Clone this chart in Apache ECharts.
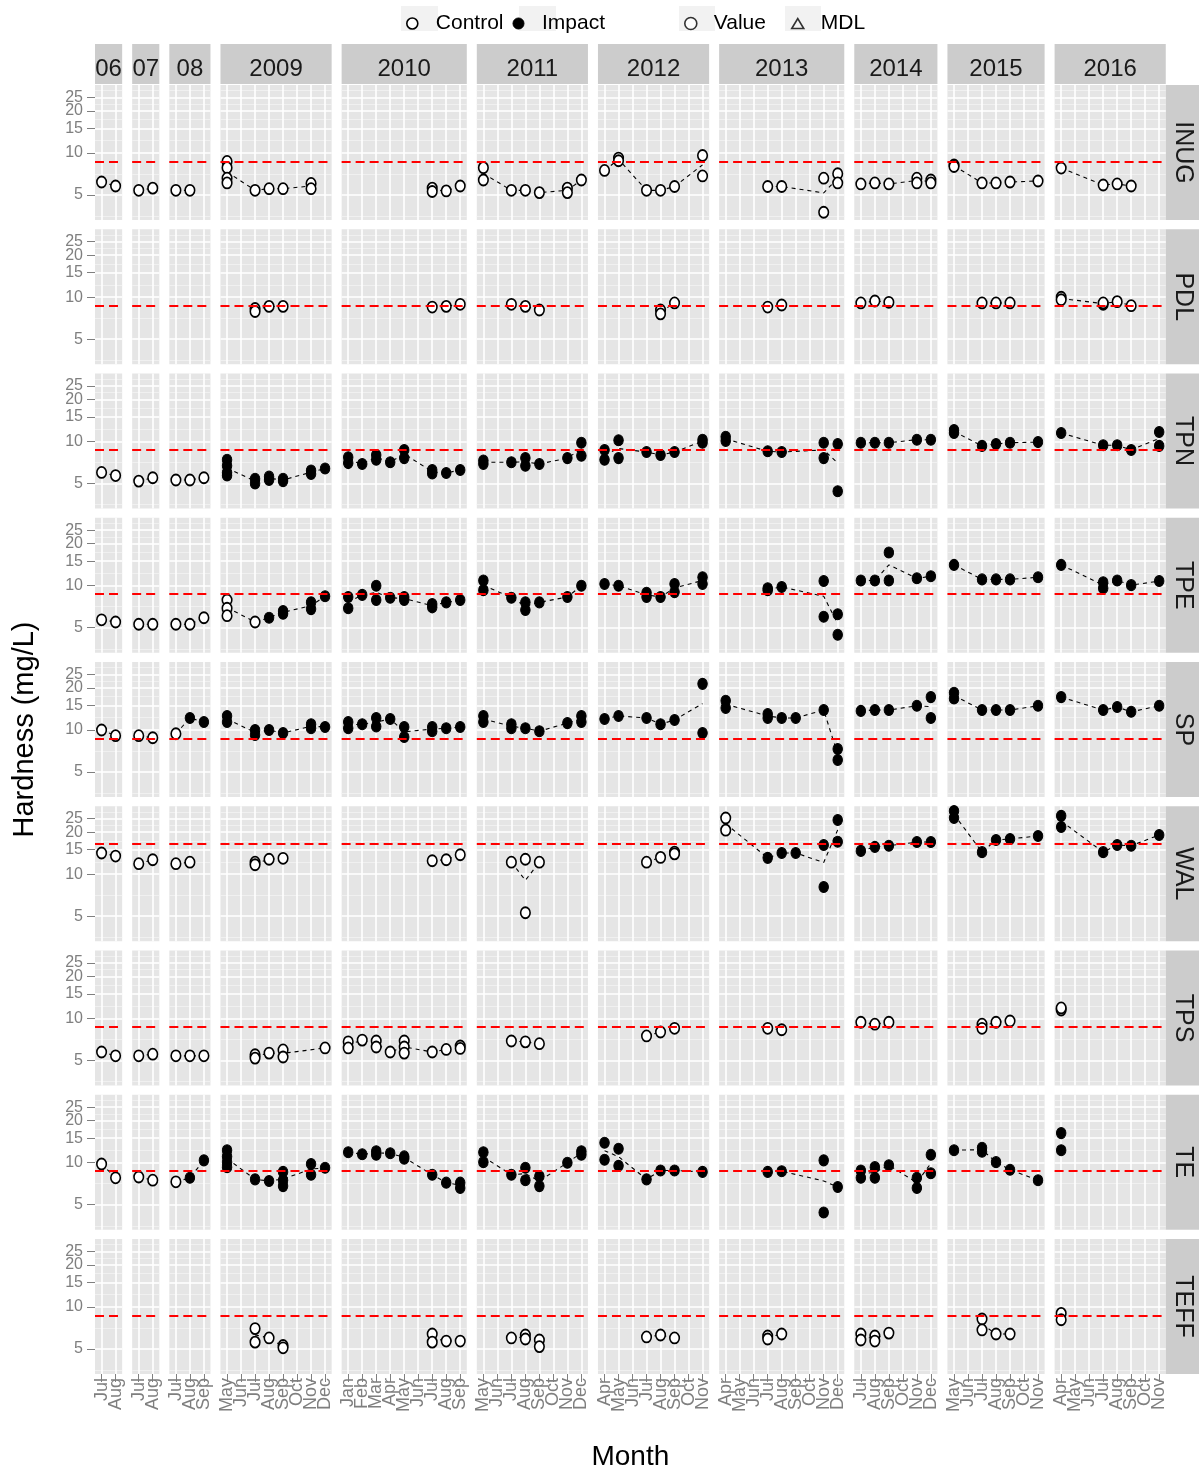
<!DOCTYPE html>
<html><head><meta charset="utf-8">
<script src="https://cdn.jsdelivr.net/npm/echarts@6/dist/echarts.min.js"></script>
<style>html,body{margin:0;padding:0;background:#fff}#c{width:1199px;height:1474px}</style>
</head><body><div id="c"></div>
<script>
// ---------------- data ----------------
const sites = ['INUG','PDL','TPN','TPE','SP','WAL','TPS','TE','TEFF'];
const years = [2006,2007,2008,2009,2010,2011,2012,2013,2014,2015,2016];
const yearLabels = ['06','07','08','2009','2010','2011','2012','2013','2014','2015','2016'];
const yearMonths = [[7,8],[7,8],[7,8,9],[5,6,7,8,9,10,11,12],[1,2,3,4,5,6,7,8,9],[5,6,7,8,9,10,11,12],
  [4,5,6,7,8,9,10,11],[4,5,6,7,8,9,10,11,12],[7,8,9,10,11,12],[5,6,7,8,9,10,11],[4,5,6,7,8,9,10,11]];
const monthNames = ['Jan','Feb','Mar','Apr','May','Jun','Jul','Aug','Sep','Oct','Nov','Dec'];
const yTicks = [5,10,15,20,25];
const guideline = [8.8,8.8,8.8,8.8,8.8,16.7,8.8,8.8,8.8];

// [year, month, hardness, 'C' control / 'I' impact]
const INUG = [
 [2006,7,6.2,'C'],[2006,8,5.8,'C'],
 [2007,7,5.4,'C'],[2007,8,5.6,'C'],
 [2008,7,5.4,'C'],[2008,8,5.4,'C'],
 [2009,5,8.7,'C'],[2009,5,7.85,'C'],[2009,5,6.6,'C'],[2009,5,6.1,'C'],[2009,7,5.4,'C'],[2009,8,5.55,'C'],[2009,9,5.55,'C'],[2009,11,6.05,'C'],[2009,11,5.55,'C'],
 [2010,7,5.6,'C'],[2010,7,5.3,'C'],[2010,8,5.35,'C'],[2010,9,5.8,'C'],
 [2011,5,7.85,'C'],[2011,5,6.4,'C'],[2011,7,5.4,'C'],[2011,8,5.4,'C'],[2011,9,5.2,'C'],[2011,11,5.6,'C'],[2011,11,5.2,'C'],[2011,12,6.4,'C'],
 [2012,4,7.5,'C'],[2012,5,9.2,'C'],[2012,5,8.8,'C'],[2012,7,5.4,'C'],[2012,8,5.4,'C'],[2012,9,5.75,'C'],[2012,11,9.6,'C'],[2012,11,6.85,'C'],
 [2013,7,5.75,'C'],[2013,8,5.75,'C'],[2013,11,6.6,'C'],[2013,11,3.76,'C'],[2013,12,7.1,'C'],[2013,12,6.1,'C'],
 [2014,7,6.0,'C'],[2014,8,6.1,'C'],[2014,9,6.0,'C'],[2014,11,6.6,'C'],[2014,11,6.1,'C'],[2014,12,6.4,'C'],[2014,12,6.1,'C'],
 [2015,5,8.2,'C'],[2015,5,8.0,'C'],[2015,7,6.1,'C'],[2015,8,6.1,'C'],[2015,9,6.2,'C'],[2015,11,6.3,'C'],
 [2016,4,7.8,'C'],[2016,7,5.9,'C'],[2016,8,6.0,'C'],[2016,9,5.8,'C']
];
const PDL = [
 [2009,7,8.3,'C'],[2009,7,7.9,'C'],[2009,8,8.6,'C'],[2009,9,8.6,'C'],
 [2010,7,8.5,'C'],[2010,8,8.6,'C'],[2010,9,8.9,'C'],
 [2011,7,8.9,'C'],[2011,8,8.6,'C'],[2011,9,8.1,'C'],
 [2012,8,8.1,'C'],[2012,8,7.6,'C'],[2012,9,9.1,'C'],
 [2013,7,8.5,'C'],[2013,8,8.8,'C'],
 [2014,7,9.1,'C'],[2014,8,9.4,'C'],[2014,9,9.2,'C'],
 [2015,7,9.1,'C'],[2015,8,9.1,'C'],[2015,9,9.1,'C'],
 [2016,4,10.0,'C'],[2016,4,9.6,'C'],[2016,7,8.9,'C'],[2016,7,9.1,'C'],[2016,8,9.3,'C'],[2016,9,8.7,'C']
];
const TPN = [
 [2006,7,6.0,'C'],[2006,8,5.7,'C'],
 [2007,7,5.2,'C'],[2007,8,5.5,'C'],
 [2008,7,5.3,'C'],[2008,8,5.3,'C'],[2008,9,5.5,'C'],
 [2009,5,7.4,'I'],[2009,5,6.7,'I'],[2009,5,6.0,'I'],[2009,5,5.7,'I'],[2009,7,5.4,'I'],[2009,7,5.0,'I'],[2009,8,5.6,'I'],[2009,8,5.3,'I'],[2009,9,5.4,'I'],[2009,9,5.2,'I'],[2009,11,6.2,'I'],[2009,11,5.85,'I'],[2009,12,6.4,'I'],
 [2010,1,7.7,'I'],[2010,1,7.0,'I'],[2010,2,6.9,'I'],[2010,3,8.0,'I'],[2010,3,7.4,'I'],[2010,4,7.1,'I'],[2010,5,8.7,'I'],[2010,5,7.6,'I'],[2010,7,6.25,'I'],[2010,7,5.9,'I'],[2010,8,5.95,'I'],[2010,9,6.25,'I'],
 [2011,5,7.3,'I'],[2011,5,6.9,'I'],[2011,7,7.1,'I'],[2011,8,7.6,'I'],[2011,8,6.7,'I'],[2011,9,6.9,'I'],[2011,11,7.6,'I'],[2011,12,9.8,'I'],[2011,12,7.9,'I'],
 [2012,4,8.7,'I'],[2012,4,7.4,'I'],[2012,5,10.2,'I'],[2012,5,7.6,'I'],[2012,7,8.4,'I'],[2012,8,8.0,'I'],[2012,9,8.4,'I'],[2012,11,9.8,'I'],[2012,11,10.3,'I'],
 [2013,4,10.8,'I'],[2013,4,10.1,'I'],[2013,7,8.5,'I'],[2013,8,8.4,'I'],[2013,11,9.8,'I'],[2013,11,7.6,'I'],[2013,12,9.6,'I'],[2013,12,4.4,'I'],
 [2014,7,9.8,'I'],[2014,8,9.8,'I'],[2014,9,9.8,'I'],[2014,11,10.3,'I'],[2014,12,10.3,'I'],
 [2015,5,12.1,'I'],[2015,5,11.5,'I'],[2015,7,9.3,'I'],[2015,8,9.6,'I'],[2015,9,9.8,'I'],[2015,11,9.9,'I'],
 [2016,4,11.5,'I'],[2016,7,9.4,'I'],[2016,8,9.4,'I'],[2016,9,8.7,'I'],[2016,11,11.7,'I'],[2016,11,9.3,'I']
];
const TPE = [
 [2006,7,5.7,'C'],[2006,8,5.5,'C'],
 [2007,7,5.3,'C'],[2007,8,5.3,'C'],
 [2008,7,5.3,'C'],[2008,8,5.3,'C'],[2008,9,5.9,'C'],
 [2009,5,7.9,'C'],[2009,5,6.9,'C'],[2009,5,6.1,'C'],[2009,7,5.5,'C'],[2009,8,5.9,'I'],[2009,9,6.3,'I'],[2009,9,6.6,'I'],[2009,11,7.6,'I'],[2009,11,6.8,'I'],[2009,12,8.4,'I'],
 [2010,1,8.3,'I'],[2010,1,6.9,'I'],[2010,2,8.6,'I'],[2010,3,10.0,'I'],[2010,3,7.9,'I'],[2010,4,8.2,'I'],[2010,5,8.3,'I'],[2010,5,7.9,'I'],[2010,7,7.4,'I'],[2010,7,7.0,'I'],[2010,8,7.6,'I'],[2010,9,7.9,'I'],
 [2011,5,10.9,'I'],[2011,5,9.3,'I'],[2011,7,8.2,'I'],[2011,8,7.6,'I'],[2011,8,6.7,'I'],[2011,9,7.6,'I'],[2011,11,8.3,'I'],[2011,12,10.0,'I'],
 [2012,4,10.3,'I'],[2012,5,10.0,'I'],[2012,7,8.9,'I'],[2012,7,8.3,'I'],[2012,8,8.3,'I'],[2012,9,10.3,'I'],[2012,9,9.0,'I'],[2012,11,11.5,'I'],[2012,11,10.3,'I'],
 [2013,7,9.6,'I'],[2013,7,9.3,'I'],[2013,8,9.8,'I'],[2013,11,10.8,'I'],[2013,11,6.0,'I'],[2013,12,6.25,'I'],[2013,12,4.45,'I'],
 [2014,7,10.9,'I'],[2014,8,10.9,'I'],[2014,9,17.3,'I'],[2014,9,10.9,'I'],[2014,11,11.3,'I'],[2014,12,11.7,'I'],
 [2015,5,14.1,'I'],[2015,7,11.1,'I'],[2015,8,11.1,'I'],[2015,9,11.1,'I'],[2015,11,11.5,'I'],
 [2016,4,14.1,'I'],[2016,7,10.6,'I'],[2016,7,9.6,'I'],[2016,8,10.9,'I'],[2016,9,10.1,'I'],[2016,11,10.8,'I']
];
const SP = [
 [2006,7,10.0,'C'],[2006,8,9.1,'C'],
 [2007,7,9.1,'C'],[2007,8,8.8,'C'],
 [2008,7,9.4,'C'],[2008,8,12.2,'I'],[2008,9,11.4,'I'],
 [2009,5,12.6,'I'],[2009,5,11.4,'I'],[2009,7,10.0,'I'],[2009,7,9.2,'I'],[2009,8,10.0,'I'],[2009,9,9.5,'I'],[2009,11,11.0,'I'],[2009,11,10.3,'I'],[2009,12,10.5,'I'],
 [2010,1,11.4,'I'],[2010,1,10.3,'I'],[2010,2,11.0,'I'],[2010,3,12.2,'I'],[2010,3,10.6,'I'],[2010,4,12.0,'I'],[2010,5,10.5,'I'],[2010,5,8.9,'I'],[2010,7,9.8,'I'],[2010,7,10.5,'I'],[2010,8,10.3,'I'],[2010,9,10.5,'I'],
 [2011,5,12.6,'I'],[2011,5,11.4,'I'],[2011,7,11.0,'I'],[2011,7,10.3,'I'],[2011,8,10.3,'I'],[2011,9,9.8,'I'],[2011,11,11.2,'I'],[2011,12,12.6,'I'],[2011,12,11.4,'I'],
 [2012,4,12.0,'I'],[2012,5,12.6,'I'],[2012,7,12.2,'I'],[2012,8,11.0,'I'],[2012,9,11.8,'I'],[2012,11,21.4,'I'],[2012,11,9.5,'I'],
 [2013,4,16.2,'I'],[2013,4,14.4,'I'],[2013,7,13.0,'I'],[2013,7,12.2,'I'],[2013,8,12.2,'I'],[2013,9,12.2,'I'],[2013,11,13.9,'I'],[2013,12,7.3,'I'],[2013,12,6.1,'I'],
 [2014,7,13.7,'I'],[2014,8,13.9,'I'],[2014,9,13.9,'I'],[2014,11,14.9,'I'],[2014,12,17.2,'I'],[2014,12,12.2,'I'],
 [2015,5,18.5,'I'],[2015,5,16.8,'I'],[2015,7,13.9,'I'],[2015,8,13.9,'I'],[2015,9,13.9,'I'],[2015,11,14.9,'I'],
 [2016,4,17.2,'I'],[2016,7,13.9,'I'],[2016,8,14.6,'I'],[2016,9,13.5,'I'],[2016,11,14.9,'I']
];
const WAL = [
 [2006,7,14.2,'C'],[2006,8,13.5,'C'],
 [2007,7,11.9,'C'],[2007,8,12.7,'C'],
 [2008,7,11.9,'C'],[2008,8,12.2,'C'],
 [2009,7,12.2,'C'],[2009,7,11.7,'C'],[2009,8,12.8,'C'],[2009,9,13.0,'C'],
 [2010,7,12.5,'C'],[2010,8,12.7,'C'],[2010,9,13.8,'C'],
 [2011,7,12.2,'C'],[2011,8,12.8,'C'],[2011,8,5.3,'C'],[2011,9,12.2,'C'],
 [2012,7,12.2,'C'],[2012,8,13.2,'C'],[2012,9,14.4,'C'],[2012,9,14.0,'C'],
 [2013,4,25.3,'C'],[2013,4,20.7,'C'],[2013,7,13.1,'I'],[2013,8,14.2,'I'],[2013,9,14.2,'I'],[2013,11,16.2,'I'],[2013,11,8.1,'I'],[2013,12,24.5,'I'],[2013,12,17.1,'I'],
 [2014,7,14.7,'I'],[2014,8,15.7,'I'],[2014,9,16.0,'I'],[2014,11,17.0,'I'],[2014,12,17.0,'I'],
 [2015,5,28.4,'I'],[2015,5,25.3,'I'],[2015,7,14.4,'I'],[2015,8,17.6,'I'],[2015,9,17.9,'I'],[2015,11,18.8,'I'],
 [2016,4,26.2,'I'],[2016,4,21.8,'I'],[2016,7,14.4,'I'],[2016,8,16.2,'I'],[2016,9,16.0,'I'],[2016,11,19.1,'I']
];
const TPS = [
 [2006,7,5.75,'C'],[2006,8,5.4,'C'],
 [2007,7,5.4,'C'],[2007,8,5.55,'C'],
 [2008,7,5.4,'C'],[2008,8,5.4,'C'],[2008,9,5.4,'C'],
 [2009,7,5.5,'C'],[2009,7,5.2,'C'],[2009,8,5.65,'C'],[2009,9,5.95,'C'],[2009,9,5.3,'C'],[2009,12,6.15,'C'],
 [2010,1,6.8,'C'],[2010,1,6.15,'C'],[2010,2,7.0,'C'],[2010,3,6.9,'C'],[2010,3,6.25,'C'],[2010,4,5.75,'C'],[2010,5,6.9,'C'],[2010,5,6.25,'C'],[2010,5,5.65,'C'],[2010,7,5.75,'C'],[2010,8,6.0,'C'],[2010,9,6.35,'C'],[2010,9,6.1,'C'],
 [2011,7,6.9,'C'],[2011,8,6.8,'C'],[2011,9,6.6,'C'],
 [2012,7,7.5,'C'],[2012,8,8.0,'C'],[2012,9,8.5,'C'],
 [2013,7,8.5,'C'],[2013,8,8.3,'C'],
 [2014,7,9.4,'C'],[2014,8,9.1,'C'],[2014,9,9.4,'C'],
 [2015,7,9.1,'C'],[2015,7,8.5,'C'],[2015,8,9.4,'C'],[2015,9,9.6,'C'],
 [2016,4,11.5,'C'],[2016,4,11.9,'C']
];
const TE = [
 [2006,7,9.8,'C'],[2006,8,7.8,'C'],
 [2007,7,7.9,'C'],[2007,8,7.5,'C'],
 [2008,7,7.3,'C'],[2008,8,7.8,'I'],[2008,9,10.4,'I'],
 [2009,5,12.3,'I'],[2009,5,11.1,'I'],[2009,5,10.1,'I'],[2009,5,9.3,'I'],[2009,7,7.6,'I'],[2009,8,7.4,'I'],[2009,9,8.6,'I'],[2009,9,7.5,'I'],[2009,9,6.8,'I'],[2009,11,9.8,'I'],[2009,11,8.2,'I'],[2009,12,9.2,'I'],
 [2010,1,11.9,'I'],[2010,2,11.5,'I'],[2010,3,12.1,'I'],[2010,3,11.4,'I'],[2010,4,11.7,'I'],[2010,5,11.1,'I'],[2010,5,10.7,'I'],[2010,7,8.2,'I'],[2010,8,7.2,'I'],[2010,9,7.2,'I'],[2010,9,6.6,'I'],
 [2011,5,11.9,'I'],[2011,5,10.1,'I'],[2011,7,8.2,'I'],[2011,8,9.2,'I'],[2011,8,7.5,'I'],[2011,9,8.0,'I'],[2011,9,6.8,'I'],[2011,11,10.0,'I'],[2011,12,11.4,'I'],[2011,12,12.1,'I'],
 [2012,4,13.9,'I'],[2012,4,10.5,'I'],[2012,5,12.6,'I'],[2012,5,9.5,'I'],[2012,7,7.6,'I'],[2012,8,8.8,'I'],[2012,9,8.8,'I'],[2012,11,8.6,'I'],
 [2013,7,8.6,'I'],[2013,8,8.7,'I'],[2013,11,10.4,'I'],[2013,11,4.4,'I'],[2013,12,6.7,'I'],
 [2014,7,8.8,'I'],[2014,7,7.8,'I'],[2014,8,9.3,'I'],[2014,8,7.8,'I'],[2014,9,9.6,'I'],[2014,11,7.8,'I'],[2014,11,6.6,'I'],[2014,12,11.4,'I'],[2014,12,8.4,'I'],
 [2015,5,12.3,'I'],[2015,7,12.8,'I'],[2015,7,12.0,'I'],[2015,8,10.1,'I'],[2015,9,8.9,'I'],[2015,11,7.5,'I'],
 [2016,4,16.3,'I'],[2016,4,12.3,'I']
];
const TEFF = [
 [2009,7,7.0,'C'],[2009,7,5.6,'C'],[2009,8,6.0,'C'],[2009,9,5.3,'C'],[2009,9,5.1,'C'],
 [2010,7,6.4,'C'],[2010,7,5.6,'C'],[2010,8,5.7,'C'],[2010,9,5.7,'C'],
 [2011,7,6.0,'C'],[2011,8,6.3,'C'],[2011,8,5.9,'C'],[2011,9,5.8,'C'],[2011,9,5.2,'C'],
 [2012,7,6.1,'C'],[2012,8,6.3,'C'],[2012,9,6.0,'C'],
 [2013,7,6.2,'C'],[2013,7,5.9,'C'],[2013,8,6.4,'C'],
 [2014,7,6.4,'C'],[2014,7,5.8,'C'],[2014,8,6.2,'C'],[2014,8,5.7,'C'],[2014,9,6.5,'C'],
 [2015,7,8.2,'C'],[2015,7,6.85,'C'],[2015,8,6.4,'C'],[2015,9,6.4,'C'],
 [2016,4,9.0,'C'],[2016,4,8.1,'C']
];
const siteData = {INUG, PDL, TPN, TPE, SP, WAL, TPS, TE, TEFF};

// ---------------- layout / style ----------------
const FR = "'Liberation Sans',Arial,sans-serif";
const L = {x0:95, colGap:10, unit:14.0, expand:0.47, top0:85, rowPitch:144.25, rowH:135,
  stripTop:44, stripH:40, rightStripW:34};
const lg = Math.log10;
const yMin = lg(3.31), yMax = lg(30.7);
const yMajor = yTicks.map(lg);
const yMinor = [];
for (let k = 0; k < yMajor.length - 1; k++) yMinor.push((yMajor[k] + yMajor[k+1]) / 2);
yMinor.unshift(yMajor[0] - (yMajor[1] - yMajor[0]) / 2);
yMinor.push(yMajor[yMajor.length-1] + (yMajor[yMajor.length-1] - yMajor[yMajor.length-2]) / 2);
// labels split over two axes so that the library never drops touching labels
const yLabA = yMajor.filter((v, k) => k % 2 === 0);
const yLabB = yMajor.filter((v, k) => k % 2 === 1);

const cols = [];
{ let x = L.x0;
  yearMonths.forEach(ms => {
    const w = L.unit * (ms[ms.length-1] - ms[0] + 2 * L.expand);
    cols.push({left:x, width:w}); x += w + L.colGap;
  });
}
const panelRight = cols[cols.length-1].left + cols[cols.length-1].width;

const grid = [], xAxis = [], yAxis = [], series = [], graphic = [];
const nR = sites.length;
const xLabelStyle = {rotate:90, color:'#7F7F7F', fontSize:18, fontFamily:FR, margin:4,
  interval:0, showMinLabel:true, showMaxLabel:true, formatter:v => monthNames[Math.round(v)-1]};
const yLabelStyle = {color:'#7F7F7F', fontSize:16, fontFamily:FR, margin:4,
  interval:0, showMinLabel:true, showMaxLabel:true, formatter:v => String(Math.round(Math.pow(10, v)))};

sites.forEach((site, r) => {
  const obs = siteData[site];
  const top = L.top0 + r * L.rowPitch;
  years.forEach((yr, c) => {
    const gi = grid.length;
    const ms = yearMonths[c];
    const msA = ms.filter((m, k) => k % 2 === 0), msB = ms.filter((m, k) => k % 2 === 1);
    grid.push({left:cols[c].left, top:top, width:cols[c].width, height:L.rowH,
      show:true, backgroundColor:'#E5E5E5', borderWidth:0});
    const bottom = (r === nR - 1);
    const xmin = ms[0] - L.expand, xmax = ms[ms.length-1] + L.expand;
    const xi = xAxis.length;
    xAxis.push({type:'value', gridIndex:gi, min:xmin, max:xmax, position:'bottom',
      axisLine:{show:false},
      axisTick:{show:bottom, customValues:ms, length:8, lineStyle:{color:'#7F7F7F', width:1}},
      axisLabel:Object.assign({show:bottom, customValues:msA}, xLabelStyle),
      splitLine:{show:true, lineStyle:{color:'#FFFFFF', width:1.6}}});
    xAxis.push({type:'value', gridIndex:gi, min:xmin, max:xmax, position:'bottom', offset:0,
      show:bottom && msB.length > 0,
      axisLine:{show:false}, axisTick:{show:false, customValues:msB.length ? msB : ms},
      axisLabel:Object.assign({show:bottom, customValues:msB.length ? msB : ms}, xLabelStyle),
      splitLine:{show:false}});
    // minor y gridlines
    yAxis.push({type:'value', gridIndex:gi, min:yMin, max:yMax, position:'left',
      axisLine:{show:false}, axisTick:{show:false, customValues:yMinor}, axisLabel:{show:false},
      splitLine:{show:true, lineStyle:{color:'#F2F2F2', width:0.8}}});
    const yi = yAxis.length;
    yAxis.push({type:'value', gridIndex:gi, min:yMin, max:yMax, position:'left',
      axisLine:{show:false},
      axisTick:{show:c===0, customValues:yMajor, length:8, lineStyle:{color:'#7F7F7F', width:1}},
      axisLabel:Object.assign({show:c===0, customValues:yLabA}, yLabelStyle, {margin:12}),
      splitLine:{show:true, lineStyle:{color:'#FFFFFF', width:1.6}}});
    yAxis.push({type:'value', gridIndex:gi, min:yMin, max:yMax, position:'left', offset:0, show:c===0,
      axisLine:{show:false}, axisTick:{show:false, customValues:yLabB},
      axisLabel:Object.assign({show:c===0, customValues:yLabB}, yLabelStyle, {margin:12}),
      splitLine:{show:false}});

    const pts = obs.filter(o => o[0] === yr);
    const byM = {};
    pts.forEach(o => { (byM[o[1]] = byM[o[1]] || []).push(o[2]); });
    const meanLine = Object.keys(byM).map(Number).sort((a,b) => a-b)
      .map(m => [m, lg(byM[m].reduce((s,v) => s+v, 0) / byM[m].length)]);
    series.push({type:'line', xAxisIndex:xi, yAxisIndex:yi, data:meanLine, symbol:'none', silent:true,
      lineStyle:{color:'#000', width:1.1, type:[4,4]}, z:2, animation:false,
      markLine:{silent:true, symbol:['none','none'], label:{show:false}, animation:false,
        lineStyle:{color:'#FF0000', width:1.8, type:[9,5]}, emphasis:{disabled:true},
        data:[{yAxis:lg(guideline[r])}]}});
    const ctrl = pts.filter(o => o[3] === 'C').map(o => [o[1], lg(o[2])]);
    const imp = pts.filter(o => o[3] === 'I').map(o => [o[1], lg(o[2])]);
    if (ctrl.length) series.push({type:'scatter', name:'Control', xAxisIndex:xi, yAxisIndex:yi, data:ctrl,
      symbol:'circle', symbolSize:[9.5,11], silent:true, z:3, animation:false,
      itemStyle:{color:'#FFFFFF', borderColor:'#000', borderWidth:1.7, opacity:1}});
    if (imp.length) series.push({type:'scatter', name:'Impact', xAxisIndex:xi, yAxisIndex:yi, data:imp,
      symbol:'circle', symbolSize:[9.5,11], silent:true, z:3, animation:false,
      itemStyle:{color:'#000000', borderColor:'#000', borderWidth:1, opacity:1}});
  });
  // right strip
  graphic.push({type:'rect', shape:{x:panelRight, y:top, width:L.rightStripW, height:L.rowH},
    style:{fill:'#CCCCCC'}, silent:true});
  graphic.push({type:'text', x:panelRight + L.rightStripW/2, y:top + L.rowH/2, rotation:-Math.PI/2, silent:true,
    style:{text:site, fontSize:25, fontFamily:FR, fill:'#1A1A1A', textAlign:'center', textVerticalAlign:'middle'}});
});
// top strips
yearLabels.forEach((lab, c) => {
  graphic.push({type:'rect', shape:{x:cols[c].left, y:L.stripTop, width:cols[c].width, height:L.stripH},
    style:{fill:'#CCCCCC'}, silent:true});
  graphic.push({type:'text', x:cols[c].left + cols[c].width/2, y:L.stripTop + L.stripH/2 + 5, silent:true,
    style:{text:lab, fontSize:24, fontFamily:FR, fill:'#1A1A1A', textAlign:'center', textVerticalAlign:'middle'}});
});
// legend key backgrounds
[[401,37],[519,37],[679,36],[785,36]].forEach(k => {
  graphic.push({type:'rect', shape:{x:k[0], y:6, width:k[1], height:25}, style:{fill:'#F2F2F2'}, silent:true});
});
// axis titles
graphic.push({type:'text', x:25, y:L.top0 + ((nR-1)*L.rowPitch + L.rowH)/2, rotation:Math.PI/2, silent:true,
  style:{text:'Hardness (mg/L)', fontSize:29, fontFamily:FR, fill:'#000', textAlign:'center', textVerticalAlign:'middle'}});
graphic.push({type:'text', x:(L.x0 + panelRight)/2, y:1457, silent:true,
  style:{text:'Month', fontSize:28, fontFamily:FR, fill:'#000', textAlign:'center', textVerticalAlign:'middle'}});

// legend-only series
series.push({type:'scatter', name:'Value', xAxisIndex:0, yAxisIndex:1, data:[]});
series.push({type:'scatter', name:'MDL', xAxisIndex:0, yAxisIndex:1, data:[]});

const legendText = {fontSize:21, fontFamily:FR, color:'#000'};
const triIcon = 'path://M0,0 M36,12 M12,11 L18,1 L24,11 Z';
const option = {
  backgroundColor:'#FFFFFF',
  animation:false,
  grid, xAxis, yAxis, series, graphic,
  legend:[
    {left:401, top:8, orient:'horizontal', itemWidth:37, itemHeight:11, itemGap:9, selectedMode:false,
     textStyle:legendText,
     data:[{name:'Control', icon:'circle', itemStyle:{color:'#FFFFFF', borderColor:'#000', borderWidth:1.6}},
           {name:'Impact', icon:'circle', itemStyle:{color:'#000', borderColor:'#000', borderWidth:1}}]},
    {left:679, top:8, orient:'horizontal', itemWidth:36, itemHeight:12, itemGap:13, selectedMode:false,
     symbolKeepAspect:false, textStyle:legendText,
     data:[{name:'Value', icon:'circle', itemStyle:{color:'#FFFFFF', borderColor:'#000', borderWidth:1.6}},
           {name:'MDL', icon:triIcon, itemStyle:{color:'rgba(0,0,0,0)', borderColor:'#000', borderWidth:1.6}}]}
  ]
};
const chart = echarts.init(document.getElementById('c'), null, {renderer:'canvas'});
chart.setOption(option);
</script>
</body></html>
